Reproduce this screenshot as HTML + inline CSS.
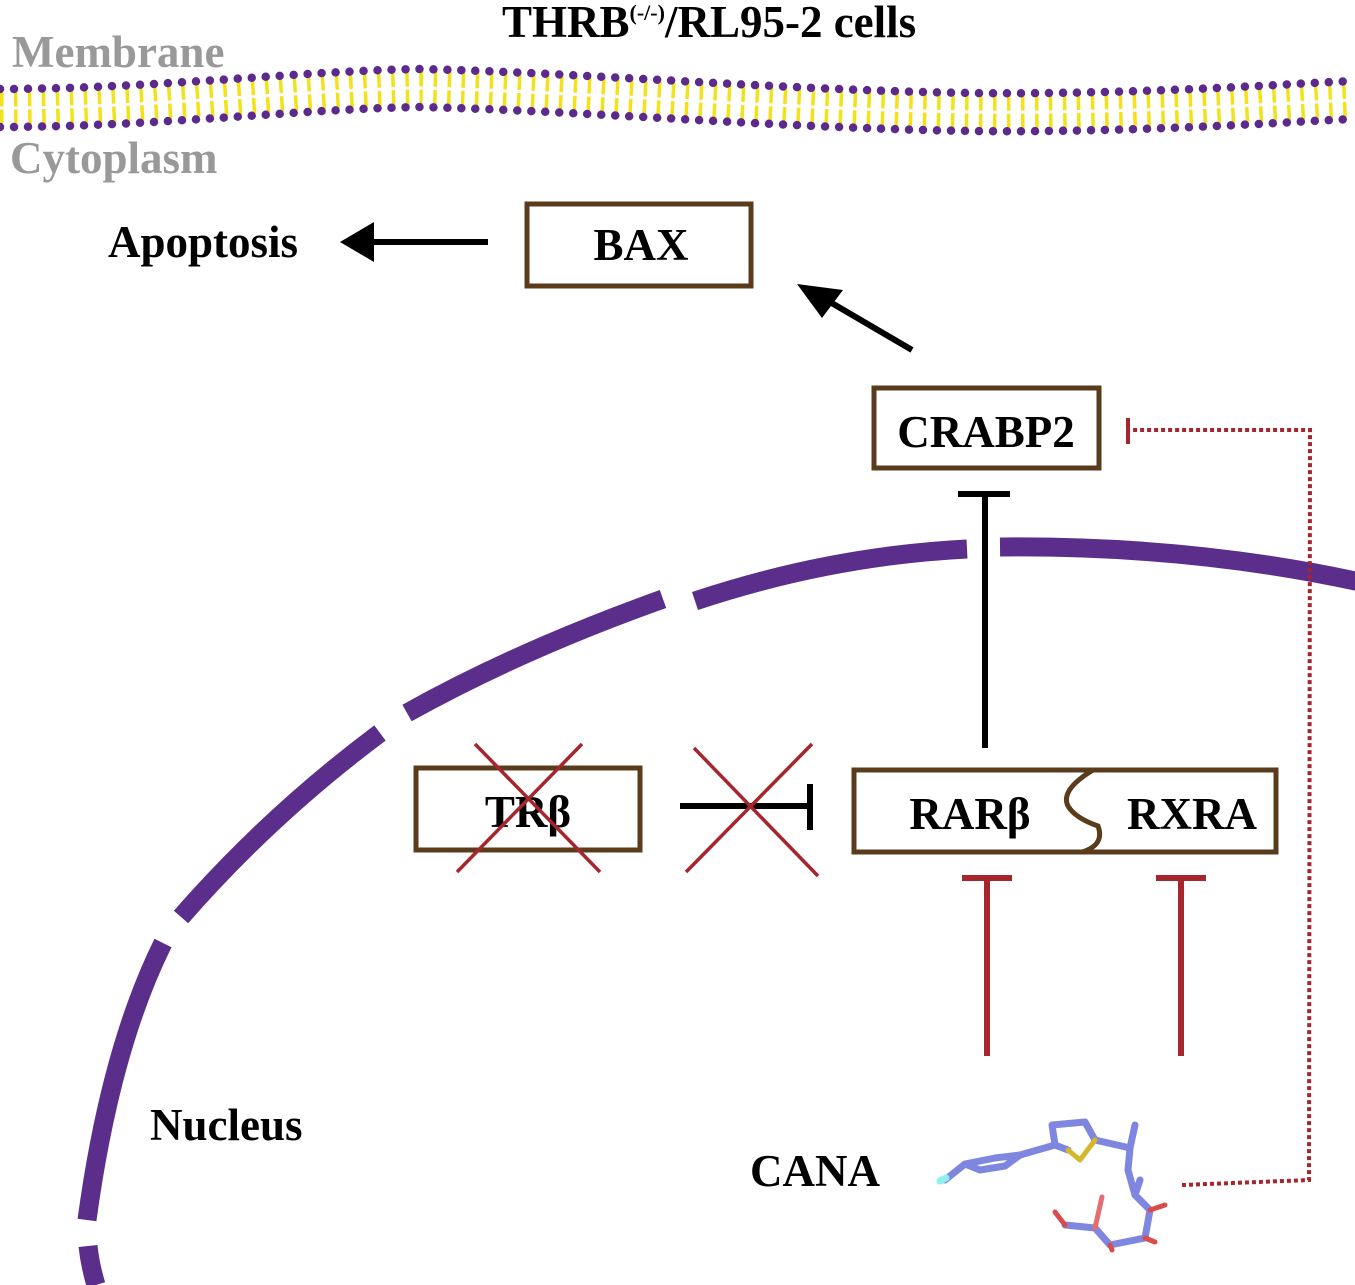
<!DOCTYPE html>
<html><head><meta charset="utf-8"><style>
html,body{margin:0;padding:0;background:#fff}
svg{display:block}
text{font-family:"Liberation Serif",serif;font-weight:bold}
</style></head><body>
<svg width="1355" height="1285" viewBox="0 0 1355 1285" xmlns="http://www.w3.org/2000/svg">
<defs>
<path id="mem" d="M0 108 C150 108 300 90 420 88 C600 92 850 115 1050 112 C1200 110 1300 102 1355 100"/>
</defs>
<g fill="none">
<use href="#mem" stroke="#f2e21a" stroke-width="34" stroke-dasharray="3.5 10.5"/>
<use href="#mem" stroke="#fff" stroke-width="3"/>
<use href="#mem" transform="translate(0,-19)" stroke="#5b2a8c" stroke-width="8.5" stroke-linecap="round" stroke-dasharray="0 14"/>
<use href="#mem" transform="translate(0,19)" stroke="#5b2a8c" stroke-width="8.5" stroke-linecap="round" stroke-dasharray="0 14"/>
</g>
<text x="12" y="67" font-size="45" fill="#999">Membrane</text>
<text x="10" y="173" font-size="45" fill="#999">Cytoplasm</text>
<text x="502" y="37" font-size="45" fill="#000">THRB<tspan font-size="22" dy="-17">(-/-)</tspan><tspan dy="17">/RL95-2 cells</tspan></text>

<g fill="none" stroke="#5b2e8c" stroke-width="19">
<path d="M1360 582 Q1190 545 1000 547"/>
<path d="M967 549 Q830 556 695 601"/>
<path d="M663 599 Q520 650 407 713"/>
<path d="M380 733 Q270 815 181 917"/>
<path d="M163 943 Q110 1050 87 1220"/>
<path d="M88 1246 Q90 1265 96 1285"/>
</g>

<g fill="#fff" stroke="#5a3b1c" stroke-width="5">
<rect x="527" y="204" width="224" height="82"/>
<rect x="874" y="388" width="225" height="80"/>
<rect x="416" y="768" width="224" height="82"/>
<rect x="854" y="770" width="422" height="82"/>
</g>
<path d="M1093 770 Q1060 790 1068 806 Q1075 818 1098 826 Q1105 845 1082 852" fill="none" stroke="#5a3b1c" stroke-width="5"/>

<text x="641" y="260" font-size="45" text-anchor="middle">BAX</text>
<text x="986" y="447" font-size="45" text-anchor="middle">CRABP2</text>
<text x="528" y="827" font-size="45" text-anchor="middle">TRβ</text>
<text x="970" y="829" font-size="45" text-anchor="middle">RARβ</text>
<text x="1192" y="829" font-size="45" text-anchor="middle">RXRA</text>
<text x="108" y="257" font-size="45">Apoptosis</text>
<text x="150" y="1140" font-size="45">Nucleus</text>
<text x="750" y="1186" font-size="45">CANA</text>

<g stroke="#000" stroke-width="6" fill="none">
<line x1="488" y1="242" x2="370" y2="242"/>
<line x1="912" y1="350" x2="830" y2="302"/>
<line x1="985" y1="748" x2="985" y2="494"/>
<line x1="958" y1="494" x2="1010" y2="494"/>
<line x1="680" y1="806" x2="810" y2="806"/>
<line x1="810" y1="784" x2="810" y2="830"/>
</g>
<polygon points="340,242 374,222 374,262" fill="#000"/>
<polygon points="797,284 843,290 822,318" fill="#000"/>

<g stroke="#a5262c" stroke-width="3.5">
<line x1="475" y1="744" x2="600" y2="872"/>
<line x1="582" y1="744" x2="457" y2="872"/>
<line x1="694" y1="748" x2="818" y2="876"/>
<line x1="812" y1="744" x2="686" y2="872"/>
</g>
<g stroke="#a5262c" stroke-width="6">
<line x1="987" y1="1056" x2="987" y2="878"/>
<line x1="962" y1="878" x2="1012" y2="878"/>
<line x1="1181" y1="1056" x2="1181" y2="878"/>
<line x1="1156" y1="878" x2="1206" y2="878"/>
</g>
<path d="M1182 1185 L1309 1180 L1310 430 L1130 430" fill="none" stroke="#a5262c" stroke-width="4" stroke-dasharray="4 3"/>
<line x1="1128" y1="418" x2="1128" y2="444" stroke="#a5262c" stroke-width="4"/>

<g fill="none" stroke-linecap="round" stroke-linejoin="round">
<g stroke="#7f86e0" stroke-width="7">
<path d="M945 1180 L965 1164 L995 1158 L1020 1155 L1055 1145 L1068 1150"/>
<path d="M965 1164 L980 1170 L1005 1166 L1020 1155"/>
<path d="M1055 1145 L1052 1125 L1085 1122 L1095 1140 L1130 1148 L1135 1125"/>
<path d="M1130 1148 L1128 1170 L1135 1195 L1140 1180"/>
<path d="M1135 1195 L1150 1210 L1145 1238 L1110 1245 L1095 1228 L1065 1225"/>
</g>
<path d="M1068 1150 L1080 1160 L1095 1140" stroke="#d4b82a" stroke-width="5"/>
<path d="M1102 1197 L1095 1228" stroke="#e46e6e" stroke-width="5"/>
<path d="M1145 1238 L1155 1242 M1110 1245 L1112 1250 M1150 1210 L1165 1205 M1065 1225 L1055 1212" stroke="#d84c4c" stroke-width="5"/>
<path d="M940 1181 L946 1178" stroke="#8ef0f0" stroke-width="7"/>
</g>
</svg>
</body></html>
